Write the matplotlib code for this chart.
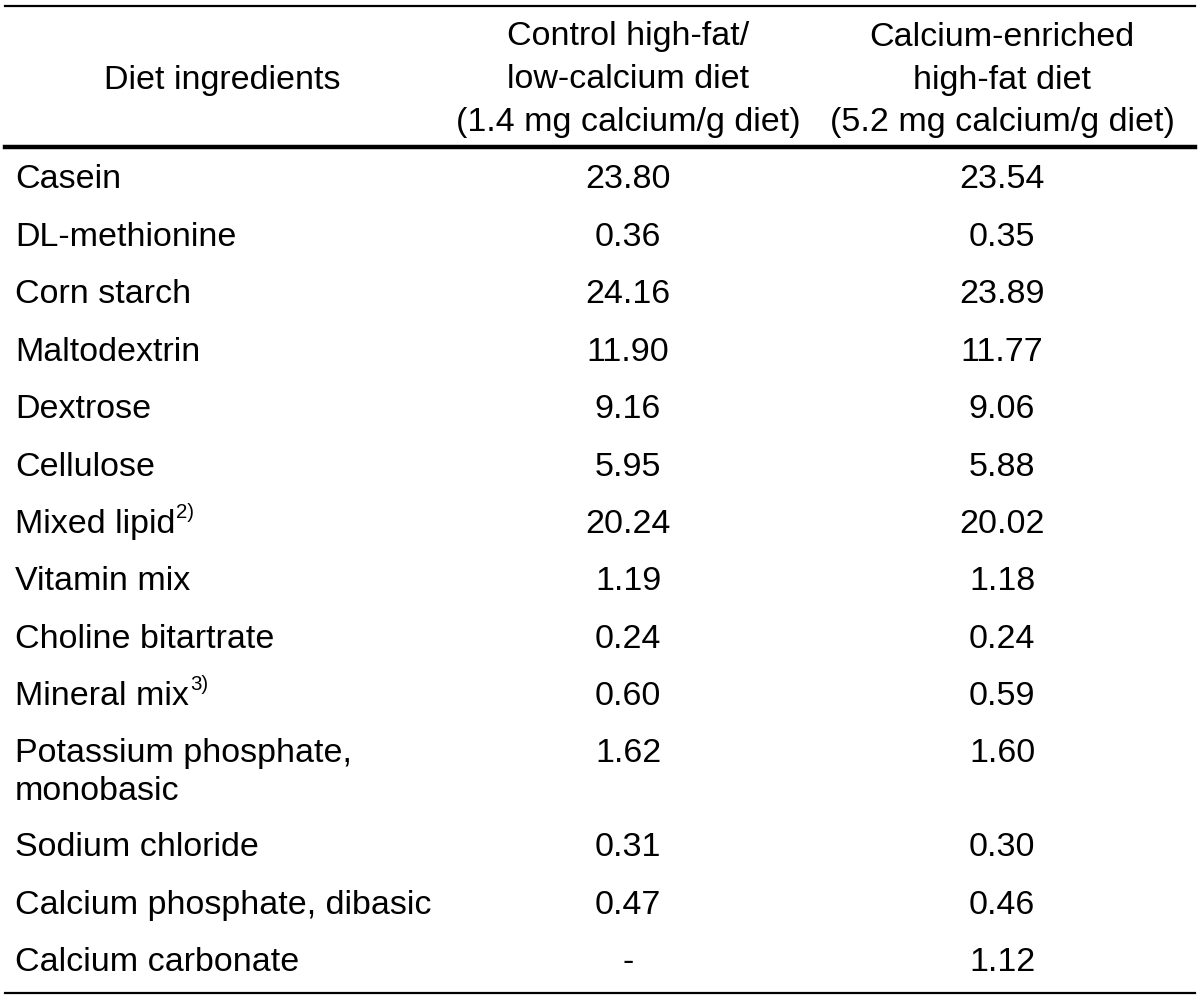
import matplotlib
matplotlib.use("Agg")
import matplotlib.pyplot as plt

# table content
header_left = "Diet ingredients"
header_control = ["Control high-fat/", "low-calcium diet", "(1.4 mg calcium/g diet)"]
header_calcium = ["Calcium-enriched", "high-fat diet", "(5.2 mg calcium/g diet)"]

ingredients = ["Casein", "DL-methionine", "Corn starch", "Maltodextrin", "Dextrose",
               "Cellulose", "Mixed lipid", "Vitamin mix", "Choline bitartrate",
               "Mineral mix", "Potassium phosphate,\nmonobasic", "Sodium chloride",
               "Calcium phosphate, dibasic", "Calcium carbonate"]
footnotes = {"Mixed lipid": "2)", "Mineral mix": "3)"}
control_diet = ["23.80", "0.36", "24.16", "11.90", "9.16", "5.95", "20.24", "1.19",
                "0.24", "0.60", "1.62", "0.31", "0.47", "-"]
calcium_diet = ["23.54", "0.35", "23.89", "11.77", "9.06", "5.88", "20.02", "1.18",
                "0.24", "0.59", "1.60", "0.30", "0.46", "1.12"]

plt.rcParams['font.family'] = ['Liberation Sans', 'DejaVu Sans']

W, H = 1200, 1001
fig = plt.figure(figsize=(W / 100, H / 100), dpi=100)
ax = fig.add_axes([0, 0, 1, 1])
ax.set_xlim(0, W)
ax.set_ylim(H, 0)
ax.axis('off')

fs = 24.5
x_left = 15
x_col1 = 628
x_col2 = 1002

# rules
ax.plot([5, 1195], [6, 6], color='black', lw=1.6)
ax.plot([5, 1195], [147, 147], color='black', lw=3.2)
ax.plot([5, 1195], [993, 993], color='black', lw=1.6)

# header
header_y = [37, 80, 122]
ax.text(222, header_y[1], header_left, fontsize=fs, ha='center', va='center')
for y, a, b in zip(header_y, header_control, header_calcium):
    ax.text(x_col1, y, a, fontsize=fs, ha='center', va='center')
    ax.text(x_col2, y, b, fontsize=fs, ha='center', va='center')

# body rows
pitch = 57.4
line_gap = 38
y = 180
fig.canvas.draw()
renderer = fig.canvas.get_renderer()
for name, c1, c2 in zip(ingredients, control_diet, calcium_diet):
    lines = name.split("\n")
    for i, ln in enumerate(lines):
        t = ax.text(x_left, y + i * line_gap, ln, fontsize=fs, ha='left', va='center')
        if ln in footnotes:
            bb = t.get_window_extent(renderer=renderer)
            x_end = ax.transData.inverted().transform((bb.x1, bb.y1))[0]
            ax.text(x_end + 1, y - 12, footnotes[ln], fontsize=fs * 0.6,
                    ha='left', va='center')
    ax.text(x_col1, y, c1, fontsize=fs, ha='center', va='center')
    ax.text(x_col2, y, c2, fontsize=fs, ha='center', va='center')
    y += pitch + (len(lines) - 1) * (line_gap - 1.5)

fig.savefig("out.png", dpi=100)
